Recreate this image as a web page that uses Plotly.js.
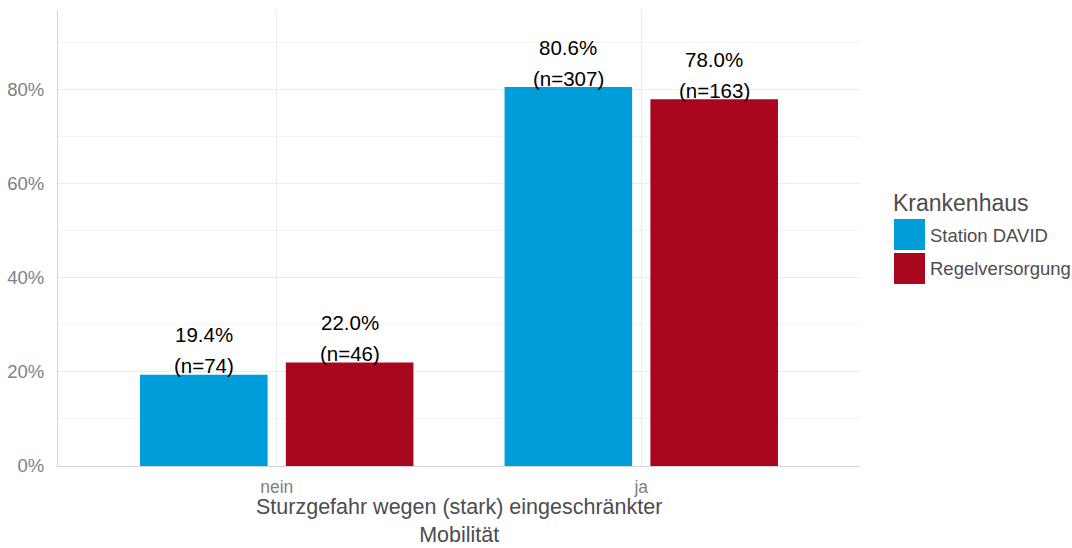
<!DOCTYPE html>
<html>
<head>
<meta charset="utf-8">
<script src="https://cdn.plot.ly/plotly-3.0.1.min.js"></script>
<style>
html,body{margin:0;padding:0;background:#fff;}
#chart{width:1072px;height:548px;}
</style>
</head>
<body>
<div id="chart"></div>
<script>
// ---- data ----
var categories = ['nein', 'ja'];
var seriesNames = ['Station DAVID', 'Regelversorgung'];
var stationDavid = [19.4, 80.6];
var regelversorgung = [22.0, 78.0];
var nStationDavid = [74, 307];
var nRegelversorgung = [46, 163];
var yTickVals = [0, 20, 40, 60, 80];
var yTickText = ['0%', '20%', '40%', '60%', '80%'];
var xTitle = 'Sturzgefahr wegen (stark) eingeschränkter<br>Mobilität';
var legendTitle = 'Krankenhaus';

// ---- style ----
var colors = ['#009ddb', '#a8071f'];
var FONT = 'Liberation Sans, Arial, sans-serif';
var L = 58, R = 212, T = 10, B = 82, W = 1072, H = 548;
var plotW = W - L - R, plotH = H - T - B;
function px(x){ return (x - L) / plotW; }
function py(y){ return (H - B - y) / plotH; }

var values = [stationDavid, regelversorgung];
var ns = [nStationDavid, nRegelversorgung];
var dodge = 0.2;

var traces = seriesNames.map(function(name, s){
  return {
    type: 'bar', name: name, x: categories, y: values[s],
    marker: {color: colors[s], line: {width: 0}},
    showlegend: false, hoverinfo: 'skip'
  };
});

var annotations = [];
seriesNames.forEach(function(name, s){
  categories.forEach(function(c, i){
    var xpos = i + (s === 0 ? -dodge : dodge);
    annotations.push({
      x: xpos, y: values[s][i], xref: 'x', yref: 'y',
      text: values[s][i].toFixed(1) + '%', showarrow: false,
      yanchor: 'middle', yshift: 40,
      font: {family: FONT, size: 20.5, color: '#000'}
    });
    annotations.push({
      x: xpos, y: values[s][i], xref: 'x', yref: 'y',
      text: '(n=' + ns[s][i] + ')', showarrow: false,
      yanchor: 'middle', yshift: 9,
      font: {family: FONT, size: 20.5, color: '#000'}
    });
  });
});

// x axis title (two lines, one text, placed below the tick labels)
annotations.push({
  x: 0.5, y: py(548), xref: 'paper', yref: 'paper',
  xanchor: 'center', yanchor: 'bottom', text: xTitle, showarrow: false,
  borderpad: 0, font: {family: FONT, size: 21.5, color: '#4d4d4d'}
});

// custom legend
annotations.push({
  x: px(891), y: py(203), xref: 'paper', yref: 'paper', xanchor: 'left', yanchor: 'middle',
  text: legendTitle, showarrow: false, font: {family: FONT, size: 23, color: '#4d4d4d'}
});
var shapes = [];
seriesNames.forEach(function(name, s){
  var top = 219 + s * 34;
  shapes.push({
    type: 'rect', xref: 'paper', yref: 'paper',
    x0: px(894), x1: px(925), y0: py(top), y1: py(top + 31),
    fillcolor: colors[s], line: {width: 0}
  });
  annotations.push({
    x: px(928), y: py(top + 16), xref: 'paper', yref: 'paper', xanchor: 'left', yanchor: 'middle',
    text: name, showarrow: false, font: {family: FONT, size: 18.5, color: '#4d4d4d'}
  });
});

var layout = {
  width: W, height: H,
  margin: {l: L, r: R, t: T, b: B, pad: 0},
  paper_bgcolor: '#fff', plot_bgcolor: '#fff',
  barmode: 'group', bargap: 0.2, bargroupgap: 0.125,
  showlegend: false,
  font: {family: FONT},
  xaxis: {
    type: 'category', range: [-0.6, 1.6], fixedrange: true,
    showgrid: true, gridcolor: '#ebebeb', gridwidth: 1,
    showline: true, linecolor: '#d4d4d4', linewidth: 1,
    zeroline: false, ticks: '', ticklabelstandoff: 5,
    tickfont: {family: FONT, size: 17.5, color: '#7f7f7f'}
  },
  yaxis: {
    range: [0, 97], fixedrange: true,
    tickvals: yTickVals, ticktext: yTickText,
    showgrid: true, gridcolor: '#ebebeb', gridwidth: 1,
    minor: {dtick: 10, tick0: 0, showgrid: true, gridcolor: '#f3f3f3', gridwidth: 1},
    showline: true, linecolor: '#d4d4d4', linewidth: 1,
    zeroline: false, ticks: '', ticklabelstandoff: 9,
    tickfont: {family: FONT, size: 18.5, color: '#7f7f7f'}
  },
  annotations: annotations,
  shapes: shapes
};

Plotly.newPlot('chart', traces, layout, {displayModeBar: false, staticPlot: true});
</script>
</body>
</html>
